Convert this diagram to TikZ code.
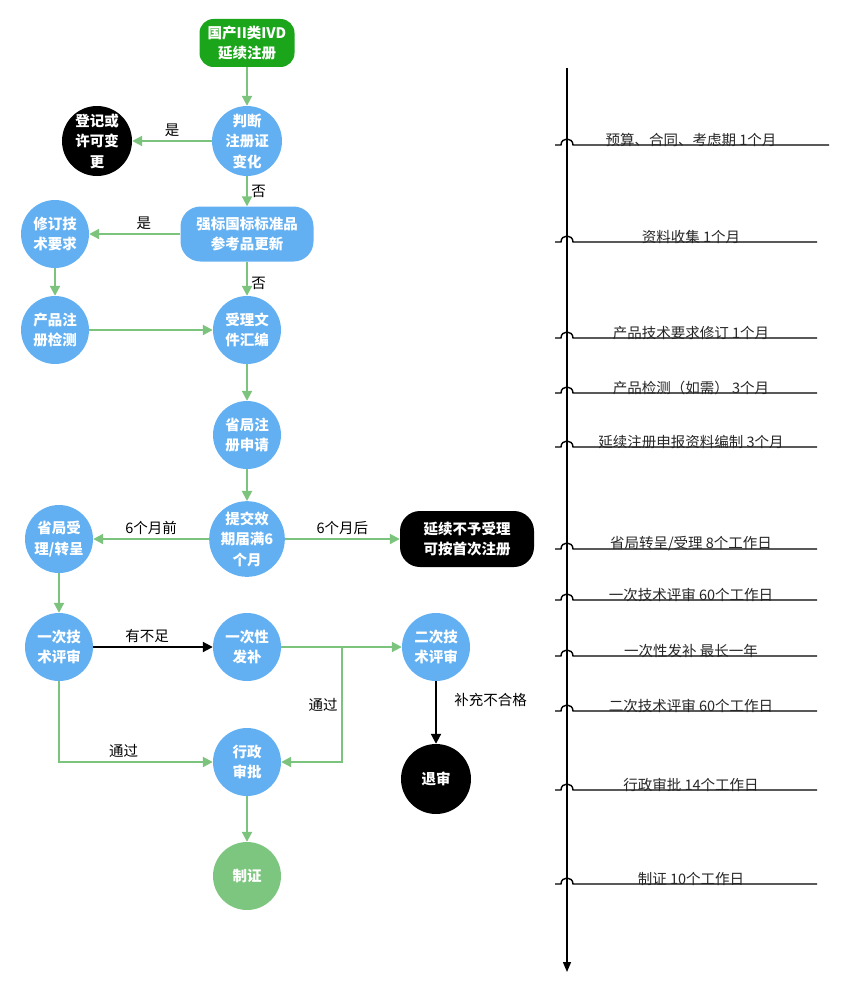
\documentclass[tikz,border=0pt]{standalone}
\usepackage{fontspec}
\setmainfont{Noto Sans CJK SC}
\usetikzlibrary{shapes.geometric, arrows.meta, positioning, calc}

\definecolor{stepblue}{HTML}{62B0F2}
\definecolor{flowgreen}{HTML}{7CC47E}
\definecolor{startgreen}{HTML}{1BA51B}
\definecolor{certgreen}{HTML}{7DC67F}

\begin{document}
\begin{tikzpicture}[
    x=1pt, y=-1pt,
    on grid,
    stepnode/.style={
        circle,
        fill=stepblue,
        minimum size=68pt,
        inner sep=0pt,
        align=center,
        text=white,
        font=\fontsize{14.5}{20.5}\selectfont\bfseries
    },
    stopnode/.style={
        stepnode,
        fill=black,
        minimum size=70pt
    },
    roundbox/.style={
        rectangle,
        rounded corners=20pt,
        fill=stepblue,
        inner sep=0pt,
        align=center,
        text=white,
        font=\fontsize{14.5}{20.5}\selectfont\bfseries
    },
    flow/.style={
        -{Triangle[length=10pt,width=10pt]},
        line width=2pt,
        flowgreen
    },
    blackflow/.style={
        flow,
        black
    },
    edgelabel/.style={
        font=\fontsize{14.5}{17}\selectfont,
        text=black
    },
    tline/.style={
        line width=1.4pt,
        black
    },
    tlabel/.style={
        font=\fontsize{14.5}{17}\selectfont,
        text=black!85
    }
]
\useasboundingbox (0,0) rectangle (850,990);

% START box
\node[roundbox, fill=startgreen, rounded corners=14pt, minimum width=95pt, minimum height=48pt] (start) at (247,43) {国产II类IVD\\延续注册};

% main column
\node[stepnode, below=98pt of start] (judge) {判断\\注册证\\变化};
\node[stopnode, left=150pt of judge] (change) {登记或\\许可变\\更};
\node[roundbox, below=93pt of judge, minimum width=133pt, minimum height=55pt] (update) {强标国标标准品\\参考品更新};
\node[stepnode, left=192pt of update] (revise) {修订技\\术要求};
\node[stepnode, below=96pt of revise] (test) {产品注\\册检测};
\node[stepnode, below=96pt of update] (compile) {受理文\\件汇编};
\node[stepnode, below=105pt of compile] (apply) {省局注\\册申请};
\node[stepnode, below=104pt of apply] (expire) {提交效\\期届满6\\个月};
\node[stepnode, left=188pt of expire] (accept) {省局受\\理/转呈};
\node[roundbox, fill=black, right=220pt of expire, minimum width=134pt, minimum height=56pt] (refuse) {延续不予受理\\可按首次注册};

% review stage
\node[stepnode, below=108pt of accept] (review1) {一次技\\术评审};
\node[stepnode, below=108pt of expire] (supp) {一次性\\发补};
\node[stepnode, right=189pt of supp] (review2) {二次技\\术评审};
\node[stepnode, below=115pt of supp] (approve) {行政\\审批};
\node[stopnode, below=132pt of review2] (withdraw) {退审};
\node[stepnode, fill=certgreen, below=114pt of approve] (cert) {制证};
\coordinate (fork) at (342,647);

% Arrows connecting boxes
\draw[flow] (start) -- (judge);
\draw[flow] (judge) -- node[above, edgelabel] {是} (change);
\draw[flow] (judge) -- node[right, edgelabel] {否} (update);
\draw[flow] (update) -- node[above, edgelabel, pos=0.4] {是} (revise);
\draw[flow] (update) -- node[right, edgelabel, pos=0.65] {否} (compile);
\draw[flow] (revise) -- (test);
\draw[flow] (test) -- (compile);
\draw[flow] (compile) -- (apply);
\draw[flow] (apply) -- (expire);
\draw[flow] (expire) -- node[above, edgelabel] {6个月前} (accept);
\draw[flow] (expire) -- node[above, edgelabel] {6个月后} (refuse);
\draw[flow] (accept) -- (review1);
\draw[blackflow] (review1) -- node[above, edgelabel, pos=0.45] {有不足} (supp);
\draw[flow] (supp) -- (review2);
\draw[flow] (review1) |- node[above, edgelabel, pos=0.71] {通过} (approve);
\draw[flow] (fork) |- node[left, edgelabel, pos=0.25] {通过} (approve);
\draw[blackflow] (review2) -- node[right=14pt, edgelabel, pos=0.3] {补充不合格} (withdraw);
\draw[flow] (approve) -- (cert);

% time axis
\coordinate (axtop) at (567,68);
\coordinate (axend) at (567,972);
\draw[tline, -{Triangle[length=10pt,width=8pt]}] (axtop) -- (axend);

% time steps (line jumps over the axis)
\foreach \y/\xend/\txt in {
    145/829/{预算、合同、考虑期 1个月},
    242/817/{资料收集 1个月},
    338/817/{产品技术要求修订 1个月},
    393/817/{产品检测（如需） 3个月},
    447/817/{延续注册申报资料编制 3个月},
    549/817/{省局转呈/受理 8个工作日},
    600/817/{一次技术评审 60个工作日},
    656/817/{一次性发补 最长一年},
    711/817/{二次技术评审 60个工作日},
    790/817/{行政审批 14个工作日},
    884/817/{制证 10个工作日}} {
    \draw[tline] (555,\y) -- (561,\y) .. controls (561,\y-8) and (573,\y-8) .. (573,\y) -- (\xend,\y);
    \node[tlabel] at (691,\y-5) {\txt};
}

\end{tikzpicture}
\end{document}
